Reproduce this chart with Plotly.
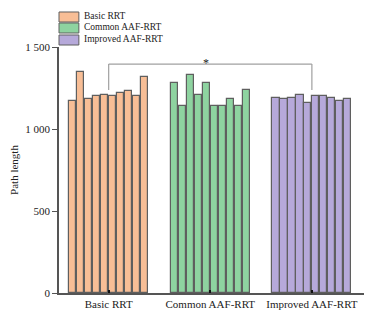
import plotly.graph_objects as go

categories = ["Basic RRT", "Common AAF-RRT", "Improved AAF-RRT"]
basic_rrt = [1170, 1350, 1180, 1200, 1210, 1200, 1220, 1230, 1200, 1320]
common_aaf = [1280, 1140, 1330, 1210, 1280, 1140, 1140, 1180, 1140, 1240]
improved_aaf = [1190, 1180, 1190, 1210, 1160, 1200, 1200, 1190, 1170, 1180]
y_ticks = [0, 500, 1000, 1500]

series = [basic_rrt, common_aaf, improved_aaf]
colors = ["#F8BE96", "#8ED3A0", "#B6A9DA"]
FONT = "Liberation Serif, Times New Roman, serif"

slot = 0.0785
fig = go.Figure()
for g, (name, vals, col) in enumerate(zip(categories, series, colors)):
    n = len(vals)
    xs = [g + (i - (n - 1) / 2) * slot for i in range(n)]
    fig.add_trace(go.Bar(
        x=xs, y=vals, name=name, width=slot * 0.9,
        marker=dict(color=col, line=dict(color="#5f5f5f", width=1.2)),
        showlegend=False,
    ))

# significance bracket between first and last groups
b_low, b_high = 1238, 1396
for x0, x1, y0, y1 in [(0, 0, b_low, b_high), (0, 2, b_high, b_high), (2, 2, b_low, b_high)]:
    fig.add_shape(type="line", xref="x", yref="y", x0=x0, x1=x1, y0=y0, y1=y1,
                  line=dict(color="#a0a0a0", width=1.2))
fig.add_annotation(x=0.96, y=b_high, yshift=1, text="*", showarrow=False,
                   xref="x", yref="y", font=dict(family=FONT, size=12, color="#222"))

# manual legend (rectangular swatches as in reference)
box_tops = [1.1423, 1.0976, 1.0488]
box_h = 0.0407
for top, name, col in zip(box_tops, categories, colors):
    fig.add_shape(type="rect", xref="paper", yref="paper",
                  x0=0.0, x1=0.0639, y0=top - box_h, y1=top,
                  fillcolor=col, line=dict(color="#5f5f5f", width=1))
    fig.add_annotation(xref="paper", yref="paper", x=0.0735, y=top - box_h / 2 + 0.006,
                       text=name, showarrow=False, xanchor="left", yanchor="middle",
                       font=dict(family=FONT, size=9.5, color="#222"))

# page body has an 8px margin, so the figure is shrunk to fit the window
fig.update_layout(
    width=364, height=306,
    margin=dict(l=49, r=2, t=39, b=21),
    paper_bgcolor="white", plot_bgcolor="white",
    separators=". ",
    showlegend=False,
    font=dict(family=FONT, size=11, color="#222"),
    bargap=0,
)
fig.update_xaxes(
    range=[-0.489, 2.572], tickvals=[0, 1, 2], ticktext=categories,
    showline=True, linecolor="#555", linewidth=1.5,
    ticks="inside", ticklen=3, tickcolor="#111", tickwidth=1.5,
    showgrid=False, zeroline=False, tickfont=dict(size=11),
)
fig.update_yaxes(
    range=[0, 1500], tickvals=y_ticks, separatethousands=True,
    showline=True, linecolor="#555", linewidth=1.5,
    ticks="outside", ticklen=5, tickcolor="#555", tickwidth=1.2,
    showgrid=False, zeroline=False,
    title=dict(text="Path length", font=dict(size=11), standoff=8),
    tickfont=dict(size=11),
)

fig.write_html("out.html")
